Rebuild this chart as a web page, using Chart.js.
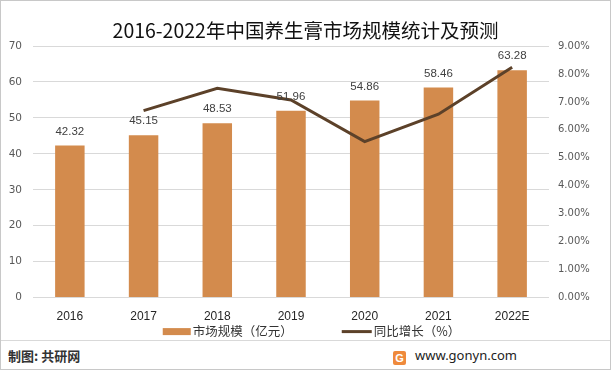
<!DOCTYPE html>
<html>
<head>
<meta charset="utf-8">
<script src="https://cdn.jsdelivr.net/npm/chart.js@4.4.1/dist/chart.umd.min.js"></script>
<style>
  html, body { margin: 0; padding: 0; background: #fff; }
  #wrap { position: relative; width: 611px; height: 370px; overflow: hidden; }
  #chart { position: absolute; left: 0; top: 0; }
  #frame { position: absolute; left: 0; top: 0; width: 609px; height: 368px; border: 1px solid #c8c8c8; pointer-events: none; }
  #title { position: absolute; left: 0; width: 611px; top: 17px; text-align: center; font: 19.5px "Noto Sans CJK SC", sans-serif; color: #111; line-height: 26px; }
  #sep { position: absolute; left: 1px; width: 609px; top: 340px; border-top: 1px solid #d9d9d9; }
  #src { position: absolute; left: 8px; top: 346px; font: bold 13px "Noto Sans CJK SC", sans-serif; color: #333; }
  #site { position: absolute; left: 393px; top: 346px; font: 13px "Noto Sans", sans-serif; color: #222; }
  #logo { display: inline-block; width: 13px; height: 14px; background: #ef8a3c; color: #fff; font: bold 11px sans-serif; text-align: center; line-height: 14px; border-radius: 2px; margin-right: 9px; vertical-align: -2px; }
</style>
</head>
<body>
<div id="wrap">
  <canvas id="chart" width="611" height="340"></canvas>
  <div id="title">2016-2022年中国养生膏市场规模统计及预测</div>
  <div id="sep"></div>
  <div id="src">制图: 共研网</div>
  <div id="site"><span id="logo">G</span>www.gonyn.com</div>
  <div id="frame"></div>
</div>
<script>
// data
const years = ['2016', '2017', '2018', '2019', '2020', '2021', '2022E'];
const marketSize = [42.32, 45.15, 48.53, 51.96, 54.86, 58.46, 63.28];
const growthRate = [null, 6.69, 7.49, 7.07, 5.58, 6.56, 8.24];

const barColor = '#D38B4D';
const lineColor = '#5C4129';
const gridColor = '#D9D9D9';
const numFont = '"Liberation Sans", sans-serif';
const tickFont = '"DejaVu Sans", sans-serif';
const cjk = '"Noto Sans CJK SC", sans-serif';

// value labels above the bars
const barLabels = {
  id: 'barLabels',
  afterDatasetsDraw(chart) {
    const { ctx } = chart;
    const meta = chart.getDatasetMeta(1);
    ctx.save();
    ctx.font = '11.5px ' + numFont;
    ctx.fillStyle = '#404040';
    ctx.textAlign = 'center';
    ctx.textBaseline = 'middle';
    meta.data.forEach((bar, i) => {
      ctx.fillText(marketSize[i].toFixed(2), bar.x, bar.y - 14);
    });
    ctx.restore();
  }
};

// legend below the axis: orange swatch for bars, short stroke for the line
const bottomLegend = {
  id: 'bottomLegend',
  afterDraw(chart) {
    const { ctx } = chart;
    const items = [
      { ds: chart.data.datasets[1], kind: 'rect', w: 28 },
      { ds: chart.data.datasets[0], kind: 'line', w: 30 },
    ];
    const gap = 2, itemGap = 49;
    ctx.save();
    ctx.font = '12.5px ' + cjk;
    let total = 0;
    items.forEach((it, i) => {
      it.tw = ctx.measureText(it.ds.label).width;
      total += it.w + gap + it.tw + (i ? itemGap : 0);
    });
    let x = chart.width / 2 + 6 - total / 2;
    const y = chart.chartArea.bottom + 34;
    ctx.textBaseline = 'middle';
    items.forEach((it) => {
      if (it.kind === 'rect') {
        ctx.fillStyle = it.ds.backgroundColor;
        ctx.fillRect(x, y - 3.5, it.w, 7);
      } else {
        ctx.strokeStyle = it.ds.borderColor;
        ctx.lineWidth = 3;
        ctx.beginPath();
        ctx.moveTo(x, y);
        ctx.lineTo(x + it.w, y);
        ctx.stroke();
      }
      ctx.fillStyle = '#333';
      ctx.fillText(it.ds.label, x + it.w + gap, y);
      x += it.w + gap + it.tw + itemGap;
    });
    ctx.restore();
  }
};

new Chart(document.getElementById('chart'), {
  data: {
    labels: years,
    datasets: [
      {
        type: 'line',
        label: '同比增长（%）',
        data: growthRate,
        yAxisID: 'y2',
        borderColor: lineColor,
        backgroundColor: lineColor,
        borderWidth: 3,
        pointRadius: 0,
        tension: 0,
        order: 0,
      },
      {
        type: 'bar',
        label: '市场规模（亿元）',
        data: marketSize,
        yAxisID: 'y',
        backgroundColor: barColor,
        borderWidth: 0,
        barPercentage: 0.4,
        categoryPercentage: 1,
        order: 1,
      },
    ],
  },
  options: {
    responsive: false,
    animation: false,
    layout: {
      padding: { top: 46, bottom: 12, left: 0, right: 0 },
    },
    scales: {
      x: {
        grid: { display: false },
        border: { display: false },
        ticks: {
          color: '#262626',
          font: { size: 12, family: numFont },
          padding: 4,
        },
      },
      y: {
        position: 'left',
        min: 0,
        max: 70,
        border: { display: false },
        grid: { color: gridColor, drawTicks: false },
        ticks: {
          stepSize: 10,
          color: '#595959',
          font: { size: 10.5, family: tickFont },
          padding: 11,
        },
        afterFit(scale) { scale.width = 33; },
      },
      y2: {
        position: 'right',
        min: 0,
        max: 9,
        border: { display: false },
        grid: { display: false },
        ticks: {
          stepSize: 1,
          color: '#595959',
          font: { size: 10, family: tickFont },
          padding: 1,
          callback: (v) => v.toFixed(2) + '%',
        },
        afterFit(scale) { scale.width = 62; },
      },
    },
    plugins: {
      legend: { display: false },
      tooltip: { enabled: false },
    },
  },
  plugins: [barLabels, bottomLegend],
});
</script>
</body>
</html>
